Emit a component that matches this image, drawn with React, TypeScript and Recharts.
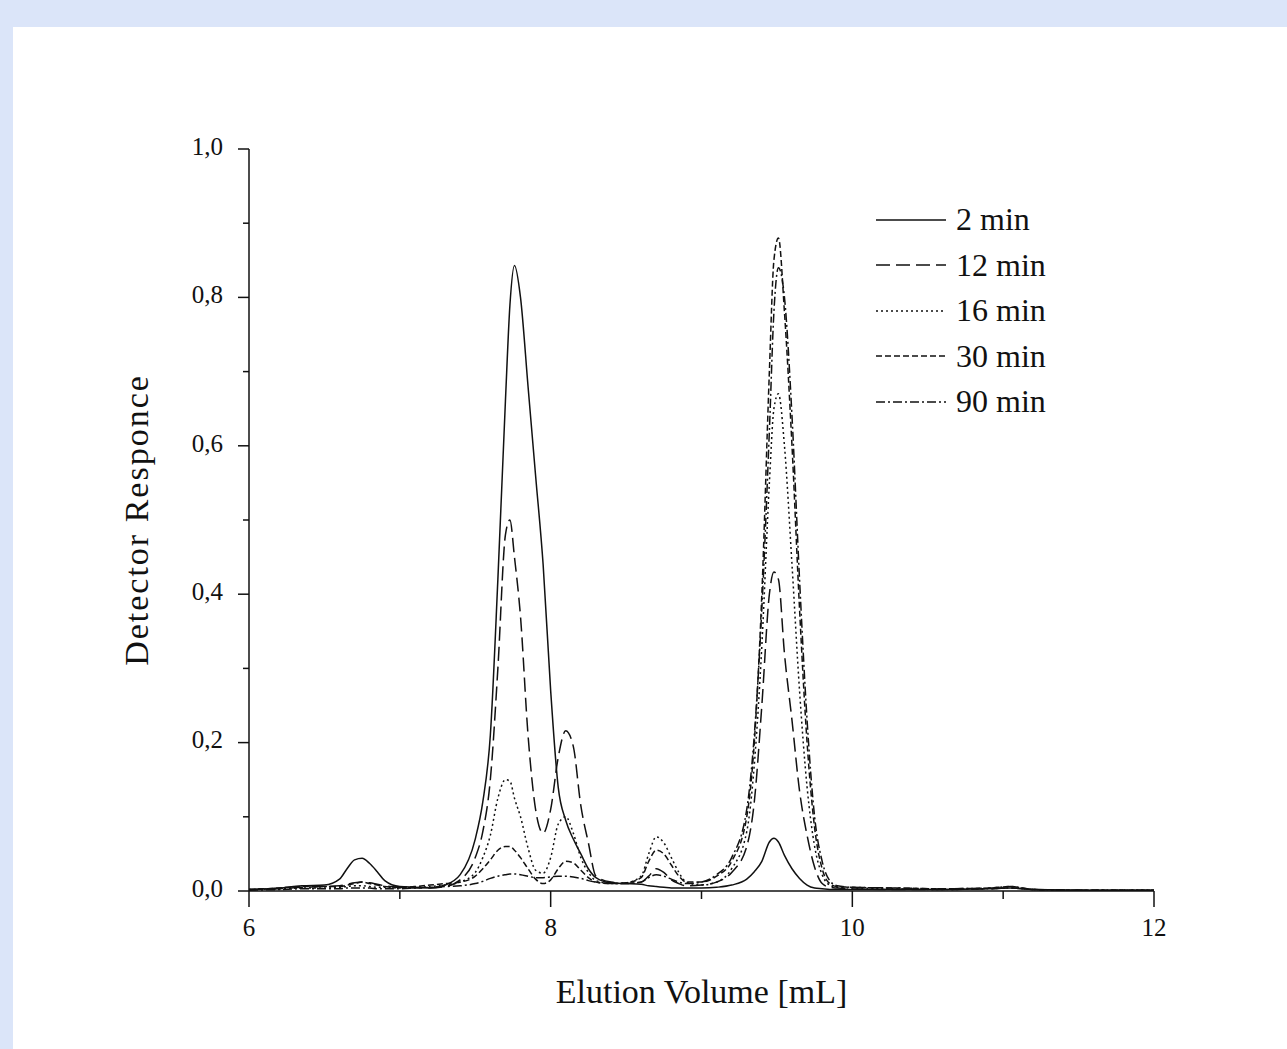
import React from "react";
import { LineChart, Line, XAxis, YAxis, Legend } from "recharts";

// elution volume [mL], shared by every trace
const volume = [
  6.0, 6.2, 6.35, 6.5, 6.6, 6.65, 6.7, 6.75, 6.8, 6.85, 6.9, 7.0, 7.1, 7.2, 7.3, 7.4, 7.5, 7.55, 7.6, 7.65,
  7.7, 7.73, 7.76, 7.8, 7.85, 7.9, 7.95, 8.0, 8.05, 8.1, 8.15, 8.2, 8.25, 8.3, 8.4, 8.5, 8.6, 8.65, 8.7, 8.75,
  8.8, 8.85, 8.9, 9.0, 9.1, 9.2, 9.3, 9.35, 9.4, 9.45, 9.48, 9.51, 9.55, 9.6, 9.65, 9.7, 9.75, 9.8, 9.85, 9.9,
  10.0, 10.3, 10.6, 10.9, 11.05, 11.2, 11.6, 12.0,
];

const min2 = [
  0.002, 0.004, 0.007, 0.008, 0.016, 0.03, 0.042, 0.044, 0.037, 0.026, 0.014, 0.006, 0.005, 0.004, 0.008, 0.022, 0.07, 0.12, 0.21, 0.42,
  0.66, 0.79, 0.843, 0.8, 0.68, 0.56, 0.44, 0.27, 0.14, 0.095, 0.07, 0.05, 0.03, 0.018, 0.011, 0.01, 0.009, 0.007, 0.006, 0.005,
  0.004, 0.004, 0.004, 0.004, 0.005, 0.008, 0.016, 0.026, 0.04, 0.066, 0.071, 0.066, 0.048, 0.03, 0.017, 0.008, 0.004, 0.003, 0.002, 0.002,
  0.002, 0.002, 0.002, 0.003, 0.004, 0.002, 0.001, 0.001,
];

const min12 = [
  0.002, 0.003, 0.005, 0.006, 0.007, 0.009, 0.011, 0.012, 0.011, 0.009, 0.007, 0.005, 0.004, 0.004, 0.006, 0.015, 0.045, 0.08, 0.15, 0.3,
  0.48, 0.5, 0.45, 0.37, 0.21, 0.11, 0.078, 0.11, 0.18, 0.216, 0.195, 0.115, 0.065, 0.02, 0.012, 0.01, 0.012, 0.02, 0.03, 0.025,
  0.015, 0.01, 0.007, 0.008, 0.012, 0.025, 0.06, 0.12, 0.25, 0.4, 0.43, 0.42, 0.32, 0.23, 0.135, 0.075, 0.032, 0.01, 0.005, 0.004,
  0.003, 0.002, 0.002, 0.003, 0.004, 0.002, 0.001, 0.001,
];

const min16 = [
  0.002, 0.003, 0.004, 0.004, 0.005, 0.006, 0.007, 0.007, 0.006, 0.005, 0.005, 0.004, 0.005, 0.006, 0.008, 0.012, 0.025, 0.045, 0.075, 0.125,
  0.15, 0.148, 0.125, 0.1, 0.058, 0.028, 0.024, 0.045, 0.09, 0.1, 0.078, 0.045, 0.025, 0.014, 0.01, 0.011, 0.02, 0.05, 0.073, 0.065,
  0.045, 0.025, 0.012, 0.008, 0.012, 0.03, 0.08, 0.17, 0.33, 0.55, 0.65, 0.67, 0.6, 0.44, 0.27, 0.14, 0.06, 0.022, 0.008, 0.005,
  0.004, 0.003, 0.002, 0.003, 0.004, 0.002, 0.001, 0.001,
];

const min30 = [
  0.002, 0.004, 0.006, 0.006, 0.006, 0.008, 0.01, 0.012, 0.01, 0.008, 0.006, 0.005, 0.006, 0.008, 0.01, 0.012, 0.02, 0.03, 0.042, 0.055,
  0.06, 0.06, 0.055, 0.045, 0.03, 0.016, 0.01, 0.015, 0.03, 0.04, 0.038, 0.028, 0.018, 0.012, 0.01, 0.011, 0.018, 0.04, 0.055, 0.05,
  0.035, 0.02, 0.012, 0.012, 0.02, 0.04, 0.1, 0.2, 0.4, 0.7, 0.85, 0.88, 0.78, 0.6, 0.38, 0.2, 0.085, 0.03, 0.01, 0.006,
  0.005, 0.004, 0.003, 0.004, 0.006, 0.002, 0.001, 0.001,
];

const min90 = [
  0.001, 0.002, 0.003, 0.003, 0.003, 0.004, 0.004, 0.004, 0.004, 0.003, 0.003, 0.003, 0.004, 0.005, 0.006, 0.007, 0.01, 0.013, 0.017, 0.02,
  0.022, 0.023, 0.023, 0.022, 0.02, 0.018, 0.018, 0.019, 0.02, 0.02, 0.019, 0.017, 0.014, 0.012, 0.01, 0.01, 0.012, 0.018, 0.022, 0.02,
  0.016, 0.012, 0.01, 0.012, 0.022, 0.045, 0.11, 0.21, 0.38, 0.62, 0.78, 0.84, 0.8, 0.64, 0.42, 0.23, 0.1, 0.04, 0.014, 0.007,
  0.005, 0.004, 0.003, 0.004, 0.006, 0.002, 0.001, 0.001,
];

const xTicks = [6, 7, 8, 9, 10, 11, 12];
const yTicks = [0, 0.1, 0.2, 0.3, 0.4, 0.5, 0.6, 0.7, 0.8, 0.9, 1.0];

const series = [
  { key: "m2", name: "2 min", dash: undefined },
  { key: "m12", name: "12 min", dash: "14 6" },
  { key: "m16", name: "16 min", dash: "2 3" },
  { key: "m30", name: "30 min", dash: "6 3" },
  { key: "m90", name: "90 min", dash: "9 3 2 3" },
];

const data = volume.map((v, i) => ({
  v,
  m2: min2[i],
  m12: min12[i],
  m16: min16[i],
  m30: min30[i],
  m90: min90[i],
}));

const FONT = "'Liberation Serif', 'Times New Roman', serif";
const INK = "#111";

const XTick = (props: any) => {
  const { x, y, payload } = props;
  const major = payload.value % 2 === 0;
  return (
    <g>
      <line x1={x} x2={x} y1={y} y2={y + (major ? 16 : 8)} stroke={INK} strokeWidth={1.5} />
      {major && (
        <text x={x} y={y + 39} textAnchor="middle" dominantBaseline="middle" fontFamily={FONT} fontSize={25} fill={INK}>
          {payload.value}
        </text>
      )}
    </g>
  );
};

const YTick = (props: any) => {
  const { x, y, payload } = props;
  const major = Math.round(payload.value * 10) % 2 === 0;
  return (
    <g>
      <line x1={x} x2={x - (major ? 11 : 6)} y1={y} y2={y} stroke={INK} strokeWidth={1.5} />
      {major && (
        <text x={x - 26} y={y} textAnchor="end" dominantBaseline="middle" fontFamily={FONT} fontSize={25} fill={INK}>
          {payload.value.toFixed(1).replace(".", ",")}
        </text>
      )}
    </g>
  );
};

const LegendBox = () => (
  <div style={{ fontFamily: FONT, fontSize: 32, color: INK }}>
    {series.map((s) => (
      <div key={s.key} style={{ display: "flex", alignItems: "center", height: 45.5 }}>
        <svg width={82} height={10}>
          <line x1={6} x2={76} y1={5} y2={5} stroke={INK} strokeWidth={1.5} strokeDasharray={s.dash} />
        </svg>
        <span style={{ marginLeft: 4 }}>{s.name}</span>
      </div>
    ))}
  </div>
);

export default function App() {
  return (
    <div style={{ position: "absolute", left: 0, top: 0, width: 1287, height: 1049, background: "#dbe5f9" }}>
      <div style={{ position: "absolute", left: 13, top: 27, right: 0, bottom: 0, background: "#fff" }} />
      <div style={{ position: "absolute", left: 0, top: 0 }}>
        <LineChart width={1287} height={1049} data={data} margin={{ top: 149, right: 133, bottom: 98, left: 189 }}>
          <XAxis
            dataKey="v"
            type="number"
            domain={[6, 12]}
            ticks={xTicks}
            tick={<XTick />}
            tickLine={false}
            tickSize={0}
            tickMargin={0}
            height={60}
            axisLine={{ stroke: INK, strokeWidth: 1.5 }}
            allowDataOverflow
            label={{ value: "Elution Volume [mL]", position: "insideBottom", offset: -52, fontFamily: FONT, fontSize: 34, fill: INK }}
          />
          <XAxis xAxisId="top" orientation="top" type="number" domain={[6, 12]} tick={false} tickLine={false} height={0} axisLine={{ stroke: INK, strokeWidth: 1.5 }} />
          <YAxis
            type="number"
            domain={[0, 1]}
            ticks={yTicks}
            tick={<YTick />}
            tickLine={false}
            tickSize={0}
            tickMargin={0}
            width={60}
            axisLine={{ stroke: INK, strokeWidth: 1.5 }}
            allowDataOverflow
            label={{ value: "Detector Responce", angle: -90, position: "center", dx: -83, fontFamily: FONT, fontSize: 34, letterSpacing: 2, fill: INK }}
          />
          <YAxis yAxisId="right" orientation="right" type="number" domain={[0, 1]} tick={false} tickLine={false} width={0} axisLine={{ stroke: INK, strokeWidth: 1.5 }} />
          <Legend
            content={<LegendBox />}
            layout="vertical"
            align="center"
            verticalAlign="middle"
            wrapperStyle={{ position: "absolute", left: 870, top: 197, width: 240 }}
          />
          {series.map((s) => (
            <Line
              key={s.key}
              dataKey={s.key}
              name={s.name}
              type="monotone"
              stroke={INK}
              strokeWidth={1.5}
              strokeDasharray={s.dash}
              dot={false}
              activeDot={false}
              isAnimationActive={false}
            />
          ))}
        </LineChart>
      </div>
    </div>
  );
}
